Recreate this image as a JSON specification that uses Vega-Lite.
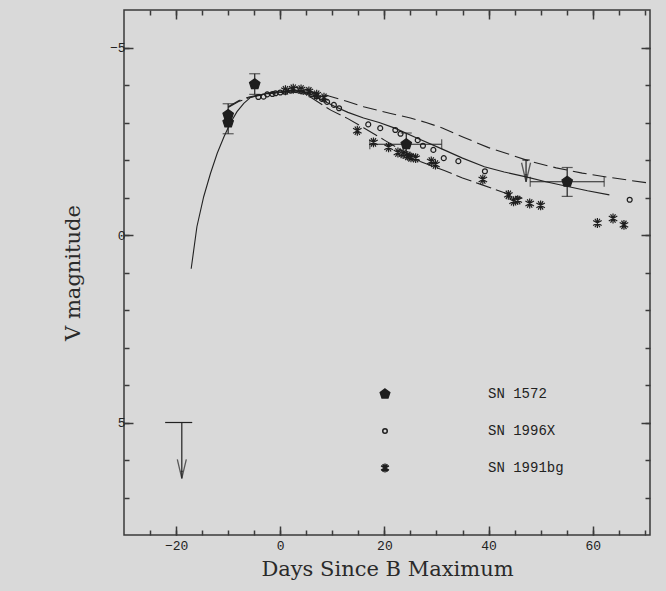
{
  "$schema": "https://vega.github.io/schema/vega-lite/v6.json",
  "width": 526,
  "height": 525,
  "autosize": {"type": "none"},
  "padding": {"left": 124, "top": 10, "right": 16, "bottom": 56},
  "background": "#d9d9d9",
  "config": {
    "view": {"stroke": "#3a3a3a", "strokeWidth": 1.5},
    "axis": {"domain": false, "grid": false, "tickColor": "#3a3a3a", "tickWidth": 1.5, "labelFont": "Liberation Mono", "labelFontSize": 13, "labelColor": "#222222", "labelFlush": false, "labelOverlap": false, "titleFont": "DejaVu Serif", "titleFontSize": 21, "titleFontWeight": "normal", "titleColor": "#2a2a2a"},
    "legend": {"labelFont": "Liberation Mono", "labelFontSize": 14, "labelColor": "#222222"}
  },
  "datasets": {
    "curves": [
      {"c": "solid", "day": -17.1, "mag": 0.9}, {"c": "solid", "day": -16, "mag": -0.22}, {"c": "solid", "day": -14.7, "mag": -1.02}, {"c": "solid", "day": -13.4, "mag": -1.64}, {"c": "solid", "day": -12.1, "mag": -2.18}, {"c": "solid", "day": -10.8, "mag": -2.62}, {"c": "solid", "day": -9.6, "mag": -2.98}, {"c": "solid", "day": -8.3, "mag": -3.29}, {"c": "solid", "day": -7, "mag": -3.51}, {"c": "solid", "day": -5.7, "mag": -3.67}, {"c": "solid", "day": -4, "mag": -3.74}, {"c": "solid", "day": -2, "mag": -3.78}, {"c": "solid", "day": 0, "mag": -3.82}, {"c": "solid", "day": 2, "mag": -3.85}, {"c": "solid", "day": 4, "mag": -3.83}, {"c": "solid", "day": 6, "mag": -3.75}, {"c": "solid", "day": 8, "mag": -3.6}, {"c": "solid", "day": 10.6, "mag": -3.42}, {"c": "solid", "day": 13, "mag": -3.27}, {"c": "solid", "day": 16, "mag": -3.12}, {"c": "solid", "day": 19, "mag": -3.0}, {"c": "solid", "day": 22, "mag": -2.85}, {"c": "solid", "day": 26, "mag": -2.6}, {"c": "solid", "day": 30.8, "mag": -2.31}, {"c": "solid", "day": 35, "mag": -2.05}, {"c": "solid", "day": 39.2, "mag": -1.82}, {"c": "solid", "day": 43, "mag": -1.68}, {"c": "solid", "day": 47.2, "mag": -1.55}, {"c": "solid", "day": 51, "mag": -1.42}, {"c": "solid", "day": 55, "mag": -1.3}, {"c": "solid", "day": 59, "mag": -1.18}, {"c": "solid", "day": 63.2, "mag": -1.07},
      {"c": "upper", "day": -10, "mag": -3.42}, {"c": "upper", "day": -8, "mag": -3.58}, {"c": "upper", "day": -6, "mag": -3.68}, {"c": "upper", "day": -4, "mag": -3.74}, {"c": "upper", "day": -2, "mag": -3.79}, {"c": "upper", "day": 0, "mag": -3.83}, {"c": "upper", "day": 2, "mag": -3.86}, {"c": "upper", "day": 4, "mag": -3.86}, {"c": "upper", "day": 6, "mag": -3.82}, {"c": "upper", "day": 9, "mag": -3.72}, {"c": "upper", "day": 12.9, "mag": -3.56}, {"c": "upper", "day": 16, "mag": -3.42}, {"c": "upper", "day": 21.2, "mag": -3.24}, {"c": "upper", "day": 25, "mag": -3.12}, {"c": "upper", "day": 28, "mag": -3.0}, {"c": "upper", "day": 31, "mag": -2.86}, {"c": "upper", "day": 35.3, "mag": -2.6}, {"c": "upper", "day": 40, "mag": -2.33}, {"c": "upper", "day": 44, "mag": -2.15}, {"c": "upper", "day": 48.1, "mag": -1.96}, {"c": "upper", "day": 53, "mag": -1.79}, {"c": "upper", "day": 58, "mag": -1.65}, {"c": "upper", "day": 63, "mag": -1.54}, {"c": "upper", "day": 67, "mag": -1.46}, {"c": "upper", "day": 71, "mag": -1.38},
      {"c": "lower", "day": -10, "mag": -3.4}, {"c": "lower", "day": -8, "mag": -3.56}, {"c": "lower", "day": -6, "mag": -3.66}, {"c": "lower", "day": -4, "mag": -3.72}, {"c": "lower", "day": -2, "mag": -3.77}, {"c": "lower", "day": 0, "mag": -3.8}, {"c": "lower", "day": 2, "mag": -3.82}, {"c": "lower", "day": 4, "mag": -3.78}, {"c": "lower", "day": 6, "mag": -3.66}, {"c": "lower", "day": 8, "mag": -3.48}, {"c": "lower", "day": 9.7, "mag": -3.33}, {"c": "lower", "day": 12.9, "mag": -3.11}, {"c": "lower", "day": 16, "mag": -2.86}, {"c": "lower", "day": 20, "mag": -2.53}, {"c": "lower", "day": 24, "mag": -2.2}, {"c": "lower", "day": 27, "mag": -1.95}, {"c": "lower", "day": 31.5, "mag": -1.72}, {"c": "lower", "day": 35, "mag": -1.52}, {"c": "lower", "day": 38.5, "mag": -1.35}, {"c": "lower", "day": 43.6, "mag": -1.1}, {"c": "lower", "day": 46.5, "mag": -0.98}
    ],
    "obs": [
      {"sn": "SN 1572", "day": -10, "mag": -3.2}, {"sn": "SN 1572", "day": -10, "mag": -3.0}, {"sn": "SN 1572", "day": -4.9, "mag": -4.02}, {"sn": "SN 1572", "day": 24.2, "mag": -2.42}, {"sn": "SN 1572", "day": 55.1, "mag": -1.42},
      {"sn": "SN 1996X", "day": -4.2, "mag": -3.68}, {"sn": "SN 1996X", "day": -3.2, "mag": -3.69}, {"sn": "SN 1996X", "day": -2.5, "mag": -3.75}, {"sn": "SN 1996X", "day": -1.5, "mag": -3.76}, {"sn": "SN 1996X", "day": -0.9, "mag": -3.78}, {"sn": "SN 1996X", "day": 0, "mag": -3.8}, {"sn": "SN 1996X", "day": 1, "mag": -3.82}, {"sn": "SN 1996X", "day": 2, "mag": -3.85}, {"sn": "SN 1996X", "day": 3, "mag": -3.87}, {"sn": "SN 1996X", "day": 4, "mag": -3.85}, {"sn": "SN 1996X", "day": 5, "mag": -3.82}, {"sn": "SN 1996X", "day": 6, "mag": -3.76}, {"sn": "SN 1996X", "day": 7, "mag": -3.7}, {"sn": "SN 1996X", "day": 8, "mag": -3.63}, {"sn": "SN 1996X", "day": 9, "mag": -3.55}, {"sn": "SN 1996X", "day": 10.3, "mag": -3.47}, {"sn": "SN 1996X", "day": 11.3, "mag": -3.38}, {"sn": "SN 1996X", "day": 16.9, "mag": -2.95}, {"sn": "SN 1996X", "day": 19.2, "mag": -2.85}, {"sn": "SN 1996X", "day": 22.1, "mag": -2.8}, {"sn": "SN 1996X", "day": 23.1, "mag": -2.7}, {"sn": "SN 1996X", "day": 26.4, "mag": -2.53}, {"sn": "SN 1996X", "day": 27.4, "mag": -2.38}, {"sn": "SN 1996X", "day": 29.4, "mag": -2.27}, {"sn": "SN 1996X", "day": 31.4, "mag": -2.05}, {"sn": "SN 1996X", "day": 34.2, "mag": -1.97}, {"sn": "SN 1996X", "day": 39.3, "mag": -1.7}, {"sn": "SN 1996X", "day": 67.1, "mag": -0.94},
      {"sn": "SN 1991bg", "day": 1.0, "mag": -3.86}, {"sn": "SN 1991bg", "day": 2.5, "mag": -3.9}, {"sn": "SN 1991bg", "day": 4.0, "mag": -3.88}, {"sn": "SN 1991bg", "day": 5.5, "mag": -3.83}, {"sn": "SN 1991bg", "day": 7.0, "mag": -3.74}, {"sn": "SN 1991bg", "day": 8.4, "mag": -3.66}, {"sn": "SN 1991bg", "day": 14.8, "mag": -2.78}, {"sn": "SN 1991bg", "day": 17.9, "mag": -2.47}, {"sn": "SN 1991bg", "day": 20.8, "mag": -2.34}, {"sn": "SN 1991bg", "day": 22.6, "mag": -2.2}, {"sn": "SN 1991bg", "day": 23.6, "mag": -2.16}, {"sn": "SN 1991bg", "day": 24.5, "mag": -2.11}, {"sn": "SN 1991bg", "day": 25.1, "mag": -2.07}, {"sn": "SN 1991bg", "day": 26.0, "mag": -2.05}, {"sn": "SN 1991bg", "day": 29.0, "mag": -1.96}, {"sn": "SN 1991bg", "day": 29.8, "mag": -1.88}, {"sn": "SN 1991bg", "day": 38.9, "mag": -1.48}, {"sn": "SN 1991bg", "day": 43.8, "mag": -1.07}, {"sn": "SN 1991bg", "day": 44.8, "mag": -0.9}, {"sn": "SN 1991bg", "day": 45.6, "mag": -0.93}, {"sn": "SN 1991bg", "day": 47.9, "mag": -0.84}, {"sn": "SN 1991bg", "day": 50.0, "mag": -0.79}, {"sn": "SN 1991bg", "day": 60.9, "mag": -0.32}, {"sn": "SN 1991bg", "day": 63.9, "mag": -0.44}, {"sn": "SN 1991bg", "day": 66.0, "mag": -0.27}
    ],
    "errV": [
      {"day": -10, "lo": -3.5, "hi": -2.7}, {"day": -4.9, "lo": -4.3, "hi": -3.75}, {"day": 24.2, "lo": -2.72, "hi": -2.14}, {"day": 55.1, "lo": -1.8, "hi": -1.03}
    ],
    "errH": [
      {"mag": -2.42, "lo": 17.2, "hi": 31.0}, {"mag": -1.42, "lo": 48.0, "hi": 62.2}
    ],
    "limits": [
      {"day": 47.2, "top": -2.0, "tip": -1.42, "capLo": 46.5, "capHi": 47.9}, {"day": -18.9, "top": 5.0, "tip": 6.49, "capLo": -22.1, "capHi": -16.9}
    ]
  },
  "layer": [
    {
      "data": {"name": "curves"},
      "transform": [{"filter": "datum.c === 'solid'"}],
      "mark": {"type": "line", "color": "#222222", "strokeWidth": 1.1},
      "encoding": {
        "x": {"field": "day", "type": "quantitative", "scale": {"domain": [-30, 71], "nice": false, "zero": false}, "axis": {"orient": "bottom", "values": [-20, 0, 20, 40, 60], "tickSize": -9, "labelPadding": 13, "title": "Days Since B Maximum", "titlePadding": 6}},
        "y": {"field": "mag", "type": "quantitative", "scale": {"domain": [-6, 8], "nice": false, "zero": false, "reverse": true}, "axis": {"orient": "left", "values": [-5, 0, 5], "tickSize": -9, "labelPadding": 8, "title": "V magnitude", "titlePadding": 26}}
      }
    },
    {
      "data": {"name": "curves"},
      "transform": [{"filter": "datum.c === 'upper'"}],
      "mark": {"type": "line", "color": "#222222", "strokeWidth": 1.1, "strokeDash": [14, 6]},
      "encoding": {
        "x": {"field": "day", "type": "quantitative", "scale": {"domain": [-30, 71], "nice": false, "zero": false}, "axis": {"orient": "bottom", "values": [-25, -20, -15, -10, -5, 0, 5, 10, 15, 20, 25, 30, 35, 40, 45, 50, 55, 60, 65, 70], "tickSize": -5, "labels": false, "title": null}},
        "y": {"field": "mag", "type": "quantitative", "scale": {"domain": [-6, 8], "nice": false, "zero": false, "reverse": true}, "axis": {"orient": "left", "values": [-5, -4, -3, -2, -1, 0, 1, 2, 3, 4, 5, 6, 7], "tickSize": -5, "labels": false, "title": null}}
      }
    },
    {
      "data": {"name": "curves"},
      "transform": [{"filter": "datum.c === 'lower'"}],
      "mark": {"type": "line", "color": "#222222", "strokeWidth": 1.1, "strokeDash": [16, 5]},
      "encoding": {
        "x": {"field": "day", "type": "quantitative", "scale": {"domain": [-30, 71], "nice": false, "zero": false}, "axis": {"orient": "top", "values": [-20, 0, 20, 40, 60], "tickSize": -9, "labels": false, "title": null}},
        "y": {"field": "mag", "type": "quantitative", "scale": {"domain": [-6, 8], "nice": false, "zero": false, "reverse": true}, "axis": {"orient": "right", "values": [-5, 0, 5], "tickSize": -9, "labels": false, "title": null}}
      }
    },
    {
      "data": {"name": "errV"},
      "mark": {"type": "rule", "color": "#222222", "strokeWidth": 1.2},
      "encoding": {
        "x": {"field": "day", "type": "quantitative", "scale": {"domain": [-30, 71], "nice": false, "zero": false}, "axis": {"orient": "top", "values": [-25, -20, -15, -10, -5, 0, 5, 10, 15, 20, 25, 30, 35, 40, 45, 50, 55, 60, 65, 70], "tickSize": -5, "labels": false, "title": null}},
        "y": {"field": "lo", "type": "quantitative", "scale": {"domain": [-6, 8], "nice": false, "zero": false, "reverse": true}, "axis": {"orient": "right", "values": [-5, -4, -3, -2, -1, 0, 1, 2, 3, 4, 5, 6, 7], "tickSize": -5, "labels": false, "title": null}},
        "y2": {"field": "hi"}
      }
    },
    {
      "data": {"name": "errV"},
      "transform": [{"fold": ["lo", "hi"], "as": ["end", "value"]}],
      "mark": {"type": "tick", "orient": "horizontal", "color": "#222222", "size": 11, "thickness": 1.2},
      "encoding": {
        "x": {"field": "day", "type": "quantitative", "axis": null},
        "y": {"field": "value", "type": "quantitative", "axis": null}
      }
    },
    {
      "data": {"name": "errH"},
      "mark": {"type": "rule", "color": "#222222", "strokeWidth": 1.2},
      "encoding": {
        "x": {"field": "lo", "type": "quantitative", "axis": null},
        "x2": {"field": "hi"},
        "y": {"field": "mag", "type": "quantitative", "axis": null}
      }
    },
    {
      "data": {"name": "errH"},
      "transform": [{"fold": ["lo", "hi"], "as": ["end", "value"]}],
      "mark": {"type": "tick", "orient": "vertical", "color": "#222222", "size": 10, "thickness": 1.2},
      "encoding": {
        "x": {"field": "value", "type": "quantitative", "axis": null},
        "y": {"field": "mag", "type": "quantitative", "axis": null}
      }
    },
    {
      "data": {"name": "limits"},
      "mark": {"type": "rule", "color": "#222222", "strokeWidth": 1.2},
      "encoding": {
        "x": {"field": "day", "type": "quantitative", "axis": null},
        "y": {"field": "top", "type": "quantitative", "axis": null},
        "y2": {"field": "tip"}
      }
    },
    {
      "data": {"name": "limits"},
      "mark": {"type": "rule", "color": "#222222", "strokeWidth": 1.2},
      "encoding": {
        "x": {"field": "capLo", "type": "quantitative", "axis": null},
        "x2": {"field": "capHi"},
        "y": {"field": "top", "type": "quantitative", "axis": null}
      }
    },
    {
      "data": {"name": "limits"},
      "mark": {"type": "point", "shape": "M-0.45,-1.9L0,0L0.45,-1.9M-0.15,-0.7L0,0L0.15,-0.7Z", "size": 400, "stroke": "#222222", "strokeWidth": 1.3, "filled": false},
      "encoding": {
        "x": {"field": "day", "type": "quantitative", "axis": null},
        "y": {"field": "tip", "type": "quantitative", "axis": null}
      }
    },
    {
      "data": {"name": "obs"},
      "mark": {"type": "point", "stroke": "#1e1e1e", "strokeWidth": 1.2, "opacity": 1, "size": 120},
      "encoding": {
        "x": {"field": "day", "type": "quantitative", "axis": null},
        "y": {"field": "mag", "type": "quantitative", "axis": null},
        "shape": {"field": "sn", "type": "nominal", "scale": {"domain": ["SN 1572", "SN 1996X", "SN 1991bg"], "range": ["M0,-1L0.951,-0.309L0.588,0.809L-0.588,0.809L-0.951,-0.309Z", "M-0.45,0A0.45,0.45 0 1,1 0.45,0A0.45,0.45 0 1,1 -0.45,0Z", "M0,-0.9L0,0.9M-0.78,-0.45L0.78,0.45M-0.78,0.45L0.78,-0.45M-0.45,-0.78L0.45,0.78M0.45,-0.78L-0.45,0.78"]}, "legend": {"title": null, "orient": "none", "legendX": 254, "legendY": 377, "labelOffset": 96, "rowPadding": 22, "padding": 0}},
        "fill": {"field": "sn", "type": "nominal", "scale": {"domain": ["SN 1572", "SN 1996X", "SN 1991bg"], "range": ["#1e1e1e", "transparent", "transparent"]}, "legend": {"title": null, "orient": "none", "legendX": 254, "legendY": 377, "labelOffset": 96, "rowPadding": 22, "padding": 0}}
      }
    }
  ],
  "resolve": {"axis": {"x": "independent", "y": "independent"}}
}
